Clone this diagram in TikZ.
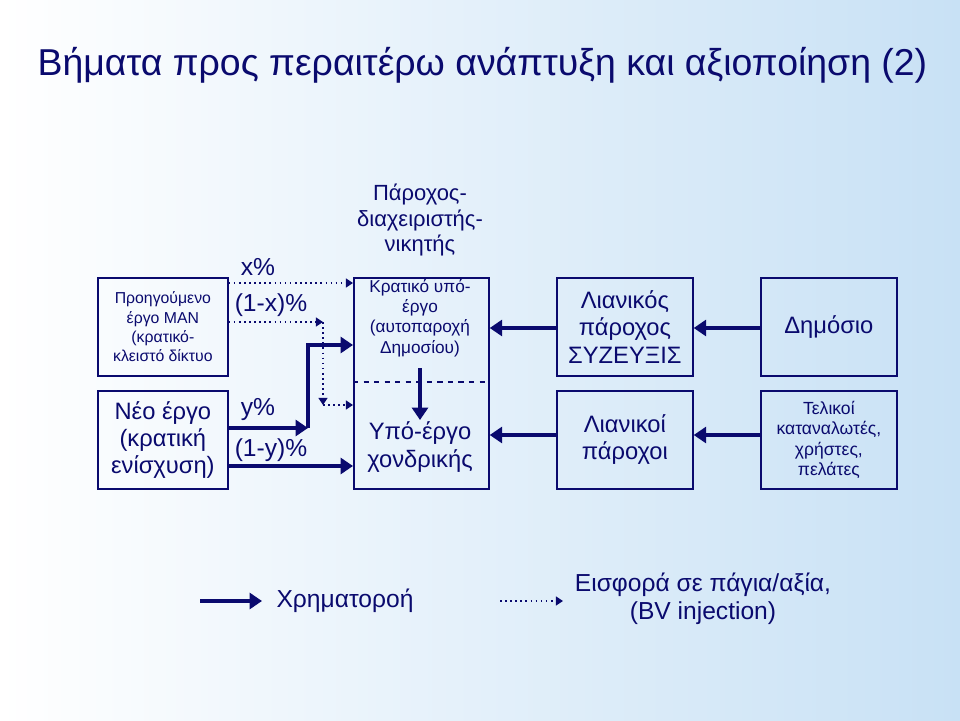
\documentclass[tikz,border=0pt]{standalone}
\usepackage{fontspec}
\setmainfont{Liberation Sans}
\usetikzlibrary{arrows.meta,shadings}
\definecolor{navy}{RGB}{10,10,110}
\definecolor{bgblue}{RGB}{200,225,245}

\tikzset{every picture/.style={line width=0.75pt}}
\tikzset{
  blk/.style={draw=navy, line width=1pt, text=navy, align=center, inner sep=1pt,
    minimum width=2.72cm, minimum height=1.96cm, anchor=north west},
  money/.style={draw=navy, line width=2.6pt, -{Triangle[length=7pt,width=9pt]}},
  asset/.style={draw=navy, dotted, line width=0.9pt, -{Triangle[length=4pt,width=5pt]}},
  pct/.style={text=navy, font=\fontsize{14}{16}\selectfont}
}

\begin{document}
\begin{tikzpicture}[x=0.02cm, y=-0.02cm]
  % Background
  \shade[left color=white, right color=bgblue] (0,0) rectangle (960,720);
  \useasboundingbox (0,0) rectangle (960,720);
  \node[anchor=base west, inner sep=0pt, text=navy, font=\fontsize{21.3}{24}\selectfont] (title) at (37,75)
    {Βήματα προς περαιτέρω ανάπτυξη και αξιοποίηση (2)};

  % Boxes
  \node[blk, minimum width=2.6cm, font=\fontsize{9}{11}\selectfont] (prev) at (97,277)
    {Προηγούμενο\\έργο MAN\\(κρατικό-\\κλειστό δίκτυο};
  \node[blk, minimum width=2.6cm, font=\fontsize{13.5}{15.5}\selectfont] (new) at (97,390)
    {Νέο έργο\\(κρατική\\ενίσχυση)};
  \node[blk, minimum width=2.7cm, minimum height=4.22cm] (sub) at (353,277) {};
  \node[text=navy, align=center, font=\fontsize{9.8}{11.5}\selectfont] (state) at (420,318)
    {Κρατικό υπό-\\έργο\\(αυτοπαροχή\\Δημοσίου)};
  \node[text=navy, align=center, font=\fontsize{13.5}{15.5}\selectfont] (whole) at (420,447)
    {Υπό-έργο\\χονδρικής};
  \node[text=navy, align=center, font=\fontsize{12.5}{14.5}\selectfont] (oper) at (420,220)
    {Πάροχος-\\διαχειριστής-\\νικητής};
  \draw[navy, dashed, line width=1pt] (353,382) -- (488,382);
  \node[blk, font=\fontsize{13.5}{15.5}\selectfont] (retail) at (556,277)
    {Λιανικός\\πάροχος\\ΣΥΖΕΥΞΙΣ};
  \node[blk, font=\fontsize{13.5}{15.5}\selectfont] (public) at (760,277) {Δημόσιο};
  \node[blk, font=\fontsize{13.5}{15.5}\selectfont] (retails) at (556,390)
    {Λιανικοί\\πάροχοι};
  \node[blk, font=\fontsize{10}{11.5}\selectfont] (users) at (760,390)
    {Τελικοί\\καταναλωτές,\\χρήστες,\\πελάτες};

  % Percentages
  \node[pct] (px) at (258,267) {x\%};
  \node[pct] (p1x) at (271,305) {(1-x)\%};
  \node[pct] (py) at (258,410) {y\%};
  \node[pct] (p1y) at (271,450) {(1-y)\%};

  % Asset flows
  \coordinate (xturn) at (323,322);
  \coordinate (xdown) at (323,405);
  \draw[asset] (prev.east |- 0,283) -- (sub.west |- 0,283);
  \draw[asset] (prev.east |- xturn) -- (xturn);
  \draw[asset] (xturn) -- (xdown);
  \draw[asset] (xdown) -- (sub.west |- xdown);

  % Money flows
  \coordinate (yturn) at (308,428);
  \draw[money] (new.east |- yturn) -- (yturn);
  \draw[money] (yturn) -- (308,345) -- (sub.west |- 0,345);
  \draw[money] (new.east |- 0,466) -- (sub.west |- 0,466);
  \draw[money] (420,368) -- (420,420);
  \draw[money] (retail.west |- 0,328) -- (sub.east |- 0,328);
  \draw[money] (public.west |- 0,328) -- (retail.east |- 0,328);
  \draw[money] (retails.west |- 0,435) -- (sub.east |- 0,435);
  \draw[money] (users.west |- 0,435) -- (retails.east |- 0,435);

  % Legend
  \coordinate (m1) at (200,601);
  \coordinate (m2) at (262,601);
  \coordinate (a1) at (500,601);
  \coordinate (a2) at (563,601);
  \draw[money] (m1) -- (m2);
  \node[text=navy, font=\fontsize{14}{16}\selectfont] (mlab) at (345,601) {Χρηματοροή};
  \draw[asset] (a1) -- (a2);
  \node[text=navy, align=center, font=\fontsize{14}{16}\selectfont] (alab) at (703,599)
    {Εισφορά σε πάγια/αξία,\\(BV injection)};
\end{tikzpicture}
\end{document}
